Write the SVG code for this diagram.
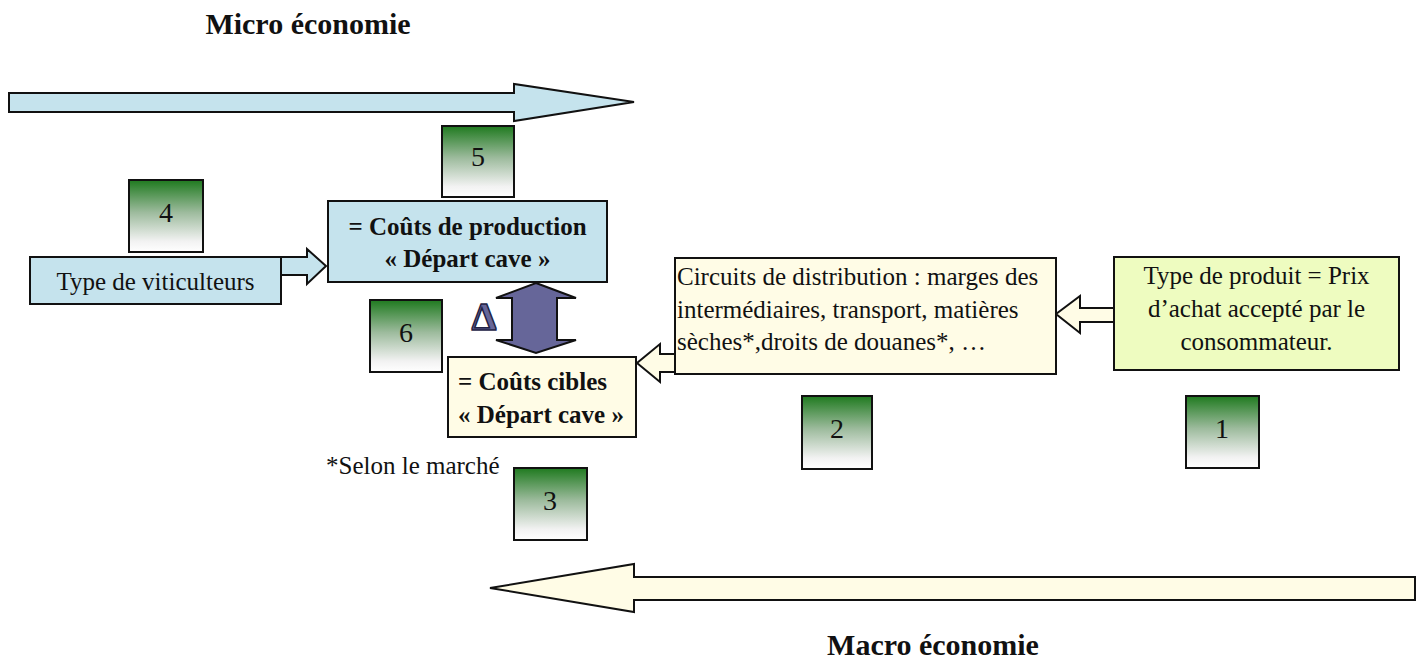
<svg xmlns="http://www.w3.org/2000/svg" width="1424" height="662" viewBox="0 0 1424 662">
<defs>
<linearGradient id="g" x1="0" y1="0" x2="0" y2="1">
<stop offset="0" stop-color="#1f7a1f"/>
<stop offset="0.45" stop-color="#9dbb9d"/>
<stop offset="0.85" stop-color="#f2f2f2"/>
<stop offset="1" stop-color="#ffffff"/>
</linearGradient>
<style>
text{font-family:"Liberation Serif","Times New Roman",serif;fill:#111}
.t{font-size:25px}
.b{font-size:25px;font-weight:bold}
.h{font-size:30px;font-weight:bold}
.n{font-size:28px;text-anchor:middle}
.c{text-anchor:middle}
.num{fill:url(#g);stroke:#111;stroke-width:2}
.blue{fill:#c5e3ed;stroke:#111;stroke-width:2}
.cream{fill:#fffce6;stroke:#111;stroke-width:2}
.green{fill:#eefcc0;stroke:#111;stroke-width:2}
.arr{stroke:#111;stroke-width:2;stroke-linejoin:miter}
</style>
</defs>
<rect width="1424" height="662" fill="#ffffff"/>
<text class="h c" x="308" y="34">Micro économie</text>
<text class="h c" x="933" y="655">Macro économie</text>
<g id="connectors">
<polygon class="arr" fill="#c5e3ed" points="9,93 514,93 514,84 634,102 514,121 514,112 9,112"/>
<polygon class="arr" fill="#fffce6" points="1415,577 634,577 634,564 490,588 634,612 634,600 1415,600"/>
<polygon class="arr" fill="#c5e3ed" points="281,257 307,257 307,249 326,266 307,284 307,275 281,275"/>
<polygon class="arr" fill="#fffce6" points="1114,308 1080,308 1080,296 1056,314 1080,333 1080,322 1114,322"/>
<polygon class="arr" fill="#fffce6" points="675,354 660,354 660,344 637,363 660,382 660,372 675,372"/>
<polygon class="arr" fill="#666699" stroke="#333366" points="536,283 576,298 557,298 557,340 576,340 536,353 496,340 512,340 512,298 496,298"/>
</g>
<g id="delta"><text x="484" y="330" font-size="40" font-weight="bold" text-anchor="middle" style="fill:#666699;stroke:#222244;stroke-width:1.5">Δ</text></g>
<g id="n4"><rect class="num" x="129" y="180" width="74" height="72"/><text class="n" x="166" y="222">4</text></g>
<g id="n5"><rect class="num" x="442" y="126" width="72" height="71"/><text class="n" x="478" y="166">5</text></g>
<g id="n6"><rect class="num" x="370" y="300" width="72" height="72"/><text class="n" x="406" y="342">6</text></g>
<g id="n3"><rect class="num" x="514" y="468" width="73" height="72"/><text class="n" x="550" y="510">3</text></g>
<g id="n2"><rect class="num" x="802" y="396" width="70" height="73"/><text class="n" x="837" y="438">2</text></g>
<g id="n1"><rect class="num" x="1186" y="396" width="73" height="72"/><text class="n" x="1222" y="438">1</text></g>
<g id="viticulteurs"><rect class="blue" x="30" y="257" width="251" height="47"/><text class="t c" x="155.5" y="290">Type de viticulteurs</text></g>
<g id="production"><rect class="blue" x="328" y="201" width="279" height="81"/><text class="b c" x="467.5" y="235">= Coûts de production</text><text class="b c" x="467.5" y="267">« Départ cave »</text></g>
<g id="cibles"><rect class="cream" x="448" y="357" width="188" height="80"/><text class="b" x="458" y="390">= Coûts cibles</text><text class="b" x="458" y="423">« Départ cave »</text></g>
<g id="distribution"><rect class="cream" x="675" y="258" width="381" height="116"/><text class="t" x="677" y="285">Circuits de distribution : marges des</text><text class="t" x="677" y="318">intermédiaires, transport, matières</text><text class="t" x="677" y="350">sèches*,droits de douanes*, …</text></g>
<g id="produit"><rect class="green" x="1114" y="257" width="285" height="113"/><text class="t c" x="1256.5" y="284">Type de produit = Prix</text><text class="t c" x="1256.5" y="317">d’achat accepté par le</text><text class="t c" x="1256.5" y="350">consommateur.</text></g>
<g id="note"><text class="t" x="326" y="474">*Selon le marché</text></g>
</svg>
